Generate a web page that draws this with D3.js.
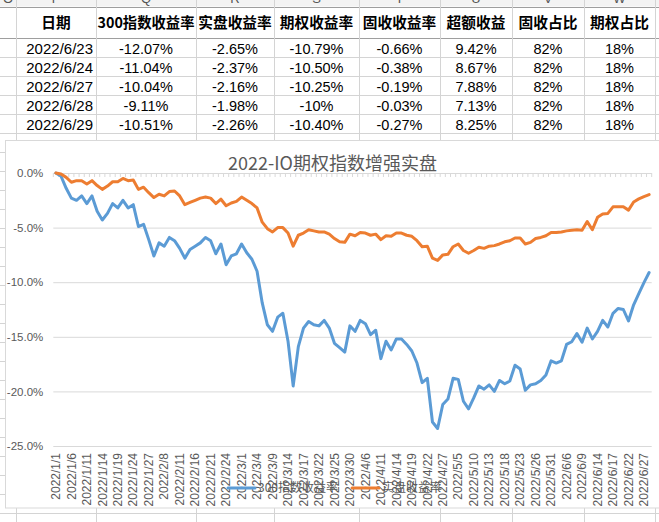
<!DOCTYPE html>
<html>
<head>
<meta charset="utf-8">
<script src="https://cdn.jsdelivr.net/npm/d3@7"></script>
<style>
body { margin: 0; background: #fff; }
svg { display: block; font-family: "Liberation Sans", Arial, sans-serif; }
</style>
</head>
<body>
<svg id="sheet"></svg>
<script>
var width = 659;
var height = 522;

// ---- sheet data ----
var colLetters = ["O", "P", "Q", "R", "S", "T", "U", "V", "W"];
var headers = ["日期", "300指数收益率", "实盘收益率", "期权收益率", "固收收益率", "超额收益", "固收占比", "期权占比"];
var rowDates = ["2022/6/23", "2022/6/24", "2022/6/27", "2022/6/28", "2022/6/29"];
var idxRet = ["-12.07%", "-11.04%", "-10.04%", "-9.11%", "-10.51%"];
var realRet = ["-2.65%", "-2.37%", "-2.16%", "-1.98%", "-2.26%"];
var optRet = ["-10.79%", "-10.50%", "-10.25%", "-10%", "-10.40%"];
var fixRet = ["-0.66%", "-0.38%", "-0.19%", "-0.03%", "-0.27%"];
var excessRet = ["9.42%", "8.67%", "7.88%", "7.13%", "8.25%"];
var fixPct = ["82%", "82%", "82%", "82%", "82%"];
var optPct = ["18%", "18%", "18%", "18%", "18%"];

// ---- chart data ----
var chartTitle = "2022-IO期权指数增强实盘";
var dates = [
  "1/1", "1/4", "1/5", "1/6", "1/7", "1/10", "1/11", "1/12", "1/13", "1/14",
  "1/17", "1/18", "1/19", "1/20", "1/21", "1/24", "1/25", "1/26", "1/27", "1/28",
  "2/7", "2/8", "2/9", "2/10", "2/11", "2/14", "2/15", "2/16", "2/17", "2/18",
  "2/21", "2/22", "2/23", "2/24", "2/25", "2/28", "3/1", "3/2", "3/3", "3/4",
  "3/7", "3/8", "3/9", "3/10", "3/11", "3/14", "3/15", "3/16", "3/17", "3/18",
  "3/21", "3/22", "3/23", "3/24", "3/25", "3/28", "3/29", "3/30", "3/31", "4/1",
  "4/6", "4/7", "4/8", "4/11", "4/12", "4/13", "4/14", "4/15", "4/18", "4/19",
  "4/20", "4/21", "4/22", "4/25", "4/26", "4/27", "4/28", "4/29", "5/5", "5/6",
  "5/9", "5/10", "5/11", "5/12", "5/13", "5/16", "5/17", "5/18", "5/19", "5/20",
  "5/23", "5/24", "5/25", "5/26", "5/27", "5/30", "5/31", "6/1", "6/2", "6/6",
  "6/7", "6/8", "6/9", "6/10", "6/13", "6/14", "6/15", "6/16", "6/17", "6/20",
  "6/21", "6/22", "6/23", "6/24", "6/27", "6/28"
];
var idx300 = [
  0, -0.3, -1.4, -2.3, -2.5, -2.1, -2.8, -2.1, -3.5, -4.3,
  -3.7, -2.8, -3.2, -2.5, -3.2, -2.9, -4.9, -4.7, -6.1, -7.6,
  -6.4, -6.7, -5.9, -6.2, -6.9, -7.8, -7.0, -6.7, -6.4, -5.9,
  -6.2, -7.4, -6.5, -8.4, -7.6, -7.4, -6.5, -7.3, -7.9, -9.0,
  -11.9, -13.9, -14.5, -13.2, -12.85, -15.4, -19.5, -15.9, -14.2, -13.6,
  -13.9, -14.0, -13.5, -14.2, -15.6, -16.0, -16.4, -14.0, -14.5, -13.5,
  -13.8, -14.8, -14.4, -17.0, -15.4, -16.2, -15.2, -15.2, -15.7, -16.3,
  -17.4, -19.2, -18.8, -22.8, -23.4, -21.2, -20.7, -18.8, -18.9, -20.9,
  -21.6, -20.6, -19.5, -19.8, -19.4, -20.0, -19.0, -19.3, -19.05, -17.6,
  -17.95, -19.9, -19.4, -19.3, -19.0, -18.5, -17.2, -17.4, -17.2, -15.7,
  -15.45, -14.7, -15.5, -14.2, -15.2, -14.5, -13.5, -14.1, -12.85, -12.4,
  -12.5, -13.55, -12.07, -11.04, -10.04, -9.11
];
var realCurve = [
  0, -0.1, -0.4, -0.85, -0.7, -0.7, -1.0, -0.7, -1.15, -1.5,
  -1.2, -0.8, -0.8, -0.5, -0.7, -0.65, -1.5, -1.3, -1.8, -2.25,
  -1.95, -2.1, -1.7, -1.65, -2.1, -2.9, -2.7, -2.5, -2.3, -2.2,
  -2.3, -2.8, -2.4, -3.0, -2.75, -2.6, -2.2, -2.5, -2.8, -3.2,
  -4.5, -5.1, -5.4, -5.0, -5.0, -5.5, -6.7, -5.7, -5.5, -5.2,
  -5.3, -5.4, -5.4, -5.6, -6.0, -6.3, -6.35, -5.6, -5.75, -5.45,
  -5.5, -5.7, -5.6, -6.1, -5.75, -5.8, -5.5, -5.5, -5.7, -5.8,
  -6.2, -6.75, -6.7, -7.8, -8.0, -7.5, -7.45, -6.75, -6.5, -7.1,
  -7.35, -7.1, -6.8, -6.9, -6.7, -6.65, -6.5, -6.3, -6.2, -5.95,
  -5.95, -6.5, -6.35, -6.0, -5.9, -5.75, -5.45, -5.45, -5.4, -5.3,
  -5.25, -5.2, -5.25, -4.45, -5.2, -4.06, -3.75, -3.7, -3.1, -3.1,
  -3.1, -3.4, -2.65, -2.37, -2.16, -1.98
];
var seriesNames = ["300指数收益率", "实盘收益率"];
var seriesColors = ["#5b9bd5", "#ed7d31"];
var yTicks = [0, -5, -10, -15, -20, -25];

var svg = d3.select("#sheet")
  .attr("width", width)
  .attr("height", height);

svg.append("rect")
  .attr("width", width)
  .attr("height", height)
  .attr("fill", "#fff");

// ---- spreadsheet grid ----
var colEdges = [0, 16, 96, 196, 274, 359, 440, 512, 584, 655];
var letterBottom = 6.5;
var headerBottom = 38;
var rowH = 19;

svg.append("rect")
  .attr("x", 0).attr("y", 0)
  .attr("width", width).attr("height", letterBottom)
  .attr("fill", "#f3f3f3");

svg.selectAll(".colLetter")
  .data(colLetters)
  .enter().append("text")
  .attr("x", function(d, i) { return (colEdges[i] + colEdges[i + 1]) / 2; })
  .attr("y", 3)
  .attr("text-anchor", "middle")
  .attr("font-size", 13)
  .attr("fill", "#555")
  .text(function(d) { return d; });

var rowLines = [letterBottom, headerBottom];
for (var r = headerBottom + rowH; r < height; r += rowH) rowLines.push(r);

svg.selectAll(".rowLine")
  .data(rowLines)
  .enter().append("line")
  .attr("x1", 0).attr("x2", width)
  .attr("y1", function(d) { return Math.round(d) + 0.5; })
  .attr("y2", function(d) { return Math.round(d) + 0.5; })
  .attr("stroke", function(d, i) { return i < 2 ? "#9e9e9e" : "#d4d4d4"; });

svg.selectAll(".colLine")
  .data(colEdges.slice(1))
  .enter().append("line")
  .attr("x1", function(d) { return d + 0.5; })
  .attr("x2", function(d) { return d + 0.5; })
  .attr("y1", 0).attr("y2", height)
  .attr("stroke", "#d4d4d4");

// header row, shrunk to fit like excel
svg.selectAll(".hdr")
  .data(headers)
  .enter().append("text")
  .attr("x", function(d, i) { return (colEdges[i + 1] + colEdges[i + 2]) / 2; })
  .attr("y", 27.5)
  .attr("text-anchor", "middle")
  .attr("font-family", "'Noto Sans CJK SC', sans-serif")
  .attr("font-weight", "bold")
  .attr("font-size", 14.7)
  .attr("fill", "#000")
  .text(function(d) { return d; })
  .each(function(d, i) {
    var room = colEdges[i + 2] - colEdges[i + 1] - 3;
    var w = this.getComputedTextLength();
    if (w > room) d3.select(this).attr("font-size", 14.7 * room / w);
  });

var tableCols = [idxRet, realRet, optRet, fixRet, excessRet, fixPct, optPct];

svg.selectAll(".dateCell")
  .data(rowDates)
  .enter().append("text")
  .attr("x", colEdges[2] - 3)
  .attr("y", function(d, i) { return headerBottom + rowH * (i + 1) - 3; })
  .attr("text-anchor", "end")
  .attr("font-size", 15)
  .attr("fill", "#000")
  .text(function(d) { return d; });

tableCols.forEach(function(col, c) {
  svg.selectAll(".cell" + c)
    .data(col)
    .enter().append("text")
    .attr("x", (colEdges[c + 2] + colEdges[c + 3]) / 2)
    .attr("y", function(d, i) { return headerBottom + rowH * (i + 1) - 3; })
    .attr("text-anchor", "middle")
    .attr("font-size", 14.5)
    .attr("fill", "#000")
    .text(function(d) { return d; });
});

// ---- chart ----
svg.append("rect")
  .attr("x", 5.5).attr("y", 140.5)
  .attr("width", 660).attr("height", 367.5)
  .attr("fill", "#fff")
  .attr("stroke", "#d9d9d9");

svg.append("text")
  .attr("x", 332.5)
  .attr("y", 170)
  .attr("text-anchor", "middle")
  .attr("font-family", "'Noto Sans CJK SC', sans-serif")
  .attr("font-size", 18)
  .attr("fill", "#595959")
  .text(chartTitle);

var plotLeft = 53.3;
var plotRight = 651.7;

var x = d3.scaleBand()
  .domain(dates)
  .range([plotLeft, plotRight]);

var y = d3.scaleLinear()
  .domain([-25, 0])
  .range([446, 173]);

var yAxis = svg.append("g")
  .attr("transform", "translate(" + plotLeft + ",0)")
  .call(d3.axisLeft(y)
    .tickValues(yTicks)
    .tickSize(-(plotRight - plotLeft))
    .tickPadding(10)
    .tickFormat(function(d) { return d.toFixed(1) + "%"; }));

yAxis.select(".domain").remove();
yAxis.selectAll(".tick line").attr("stroke", "#d9d9d9");
yAxis.selectAll(".tick text")
  .attr("fill", "#595959")
  .attr("font-size", 11.5)
  .attr("font-family", "'Liberation Sans', Arial, sans-serif");

// category tick marks on the zero line
svg.selectAll(".catTick")
  .data(d3.range(dates.length + 1))
  .enter().append("line")
  .attr("x1", function(i) { return plotLeft + i * x.step(); })
  .attr("x2", function(i) { return plotLeft + i * x.step(); })
  .attr("y1", y(0))
  .attr("y2", y(0) + 4)
  .attr("stroke", "#d9d9d9");

var xAxis = svg.append("g")
  .attr("transform", "translate(0," + y(-25) + ")")
  .call(d3.axisBottom(x)
    .tickValues(dates.filter(function(d, i) { return i % 3 === 0; }))
    .tickSize(0)
    .tickFormat(function(d) { return "2022/" + d; }));

xAxis.select(".domain").remove();
xAxis.selectAll(".tick text")
  .attr("transform", "rotate(-90)")
  .attr("x", -7)
  .attr("y", 0)
  .attr("dy", "0.35em")
  .attr("text-anchor", "end")
  .attr("fill", "#595959")
  .attr("font-size", 12)
  .attr("font-family", "'Liberation Sans', Arial, sans-serif");

var line = d3.line()
  .x(function(d, i) { return x(dates[i]) + x.bandwidth() / 2; })
  .y(function(d) { return y(d); });

[idx300, realCurve].forEach(function(s, k) {
  svg.append("path")
    .datum(s)
    .attr("d", line)
    .attr("fill", "none")
    .attr("stroke", seriesColors[k])
    .attr("stroke-width", 3)
    .attr("stroke-linejoin", "round")
    .attr("stroke-linecap", "round");
});

// legend
var legendX = [228, 352];
seriesNames.forEach(function(name, k) {
  svg.append("line")
    .attr("x1", legendX[k]).attr("x2", legendX[k] + 27)
    .attr("y1", 488).attr("y2", 488)
    .attr("stroke", seriesColors[k])
    .attr("stroke-width", 3)
    .attr("stroke-linecap", "round");
  svg.append("text")
    .attr("x", legendX[k] + 30)
    .attr("y", 492)
    .attr("font-family", "'Noto Sans CJK SC', sans-serif")
    .attr("font-size", 12)
    .attr("fill", "#595959")
    .text(name);
});
</script>
</body>
</html>
